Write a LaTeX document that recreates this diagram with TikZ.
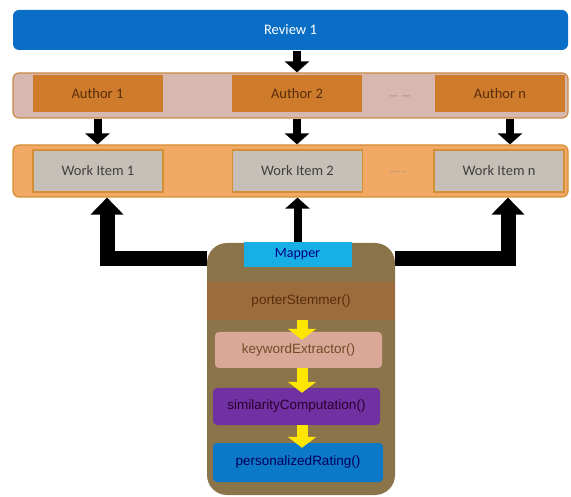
\documentclass[tikz,border=0pt]{standalone}
\usepackage{fontspec}
\setmainfont{Carlito}
\newfontfamily\funcfont{Liberation Sans}
\usetikzlibrary{arrows.meta}

\definecolor{revblue}{HTML}{0A6EC6}
\definecolor{bandpink}{HTML}{D8B8AE}
\definecolor{bandline}{HTML}{C98A45}
\definecolor{authfill}{HTML}{CE7C2C}
\definecolor{authtext}{HTML}{5A2C0C}
\definecolor{workband}{HTML}{F2A965}
\definecolor{workfill}{HTML}{C6BFB8}
\definecolor{workline}{HTML}{D48F35}
\definecolor{mapfill}{HTML}{8C744A}
\definecolor{mapcyan}{HTML}{18AEE6}
\definecolor{porterfill}{HTML}{9C6C3C}
\definecolor{keyfill}{HTML}{D9A898}
\definecolor{simfill}{HTML}{7032A2}
\definecolor{persfill}{HTML}{0C78C8}
\definecolor{arrowyellow}{HTML}{FFE600}

\tikzset{
	band/.style={rectangle, rounded corners=6pt, inner sep=0pt, line width=1.2pt},
	itembox/.style={rectangle, inner sep=0pt, minimum width=130pt, font=\fontsize{14.5}{16}\selectfont},
	funcbox/.style={rectangle, rounded corners=4pt, inner sep=0pt, font=\funcfont\fontsize{13.5}{15}\selectfont},
	blk/.style={line width=8pt, -{Triangle[length=11pt,width=24pt]}},
	bigblk/.style={line width=15pt, line join=miter, -{Triangle[length=17pt,width=32pt]}},
	ylw/.style={draw=arrowyellow, line width=11pt, -{Triangle[length=11pt,width=28pt]}}
}

\begin{document}
\begin{tikzpicture}[x=1pt,y=-1pt]
	\useasboundingbox (0,0) rectangle (571,497);

	\node[band, fill=revblue, minimum width=555pt, minimum height=40pt, text=white, font=\fontsize{14.5}{16}\selectfont] (review) at (290.5,30) {Review 1};

	\node[band, draw=bandline, fill=bandpink, minimum width=555pt, minimum height=45pt] (authband) at (290.5,95.5) {};
	\node[itembox, fill=authfill, minimum height=37pt, text=authtext] (a1) at (97.5,93.5) {Author 1};
	\node[itembox, fill=authfill, minimum height=37pt, text=authtext] (a2) at (297,93.5) {Author 2};
	\node[itembox, fill=authfill, minimum height=37pt, text=authtext] (an) at (500,93.5) {Author n};
	\node[text=gray!90, font=\fontsize{11}{12}\selectfont] (adots) at (400,98) {--- ---};

	\node[band, draw=workline, fill=workband, minimum width=555pt, minimum height=52pt] (workband) at (290.5,171) {};
	\node[itembox, draw=workline, line width=1.2pt, fill=workfill, minimum height=42pt, text=black!75] (w1) at (98,171) {Work Item 1};
	\node[itembox, draw=workline, line width=1.2pt, fill=workfill, minimum height=42pt, text=black!75] (w2) at (297.5,171) {Work Item 2};
	\node[itembox, draw=workline, line width=1.2pt, fill=workfill, minimum height=42pt, text=black!75] (wn) at (499,171) {Work Item n};
	\node[text=gray!80, font=\fontsize{11}{12}\selectfont] (wdots) at (398,172) {......};

	\node[rectangle, rounded corners=20pt, fill=mapfill, minimum width=188pt, minimum height=252pt] (mapbox) at (301,369) {};
	\node[rectangle, inner sep=0pt, fill=mapcyan, minimum width=108pt, minimum height=25pt, text=blue!50!black, font=\fontsize{14}{16}\selectfont] (mapper) at (297.5,254.5) {Mapper};
	\node[rectangle, inner sep=0pt, fill=porterfill, minimum width=188pt, minimum height=38pt, text=authtext, font=\funcfont\fontsize{13.5}{15}\selectfont] (porter) at (301,301) {porterStemmer()};
	\node[funcbox, fill=keyfill, minimum width=167pt, minimum height=36pt, text=brown!60!black] (keyword) at (298.5,350) {keywordExtractor()};
	\node[funcbox, fill=simfill, minimum width=167pt, minimum height=37pt, text=violet!35!black] (simil) at (296.5,406.5) {similarityComputation()};
	\node[funcbox, fill=persfill, minimum width=170pt, minimum height=39pt, text=blue!35!black] (person) at (298,462.5) {personalizedRating()};

	\coordinate (leftup) at (107,259);
	\coordinate (rightup) at (508,259);

	\draw[blk] (review.south -| a2) -- (authband.north -| a2);
	\draw[blk] (authband.south -| a1) -- (workband.north -| a1);
	\draw[blk] (authband.south -| a2) -- (workband.north -| a2);
	\draw[blk] ([xshift=10pt]authband.south -| an) -- ([xshift=10pt]workband.north -| an);

	\draw[blk] (mapper.north -| w2) -- (workband.south -| w2);
	\draw[bigblk] (mapbox.west |- leftup) -- (leftup) -- (workband.south -| leftup);
	\draw[bigblk] (mapbox.east |- rightup) -- (rightup) -- (workband.south -| rightup);

	% yellow arrows run a little into the next box
	\draw[ylw] (porter.south -| 302,0) -- ([yshift=-8pt]keyword.north -| 302,0);
	\draw[ylw] (keyword.south -| 302,0) -- ([yshift=-5pt]simil.north -| 302,0);
	\draw[ylw] (simil.south -| 302,0) -- ([yshift=-5pt]person.north -| 302,0);
\end{tikzpicture}
\end{document}
